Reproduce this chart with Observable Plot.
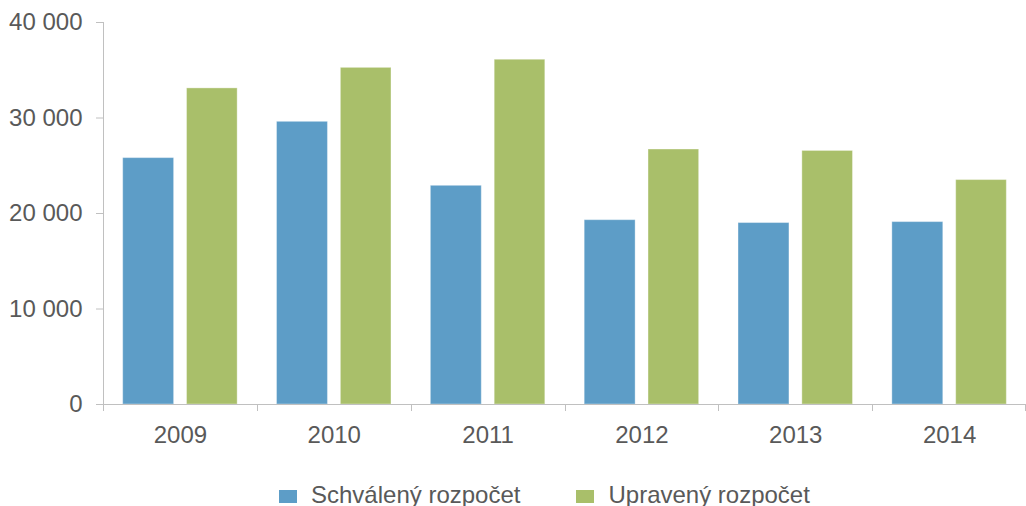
<!DOCTYPE html>
<html><head><meta charset="utf-8">
<script src="https://cdn.jsdelivr.net/npm/d3@7"></script>
<script src="https://cdn.jsdelivr.net/npm/@observablehq/plot@0.6"></script>
<style>
html,body{margin:0;padding:0;background:#fff;overflow:hidden;width:1026px;height:506px}
body{font-family:"Liberation Sans",Arial,sans-serif;position:relative}
#legend{position:absolute;left:0;top:462px;width:1026px;height:60px;display:flex;align-items:flex-start;font-size:24px;color:#595959}
#legend .item{display:flex;align-items:flex-start}
#legend .sw{width:18px;height:13px;margin-top:28px;margin-right:14px}
#legend .lab{line-height:24px;margin-top:21px;white-space:nowrap}
</style></head><body>
<div id="chart"></div>
<div id="legend"></div>
<script>
const years = ["2009", "2010", "2011", "2012", "2013", "2014"];
const seriesNames = ["Schválený rozpočet", "Upravený rozpočet"];
const schvaleny = [25800, 29600, 22900, 19300, 19000, 19100];
const upraveny = [33100, 35250, 36100, 26700, 26550, 23500];
const colors = ["#5d9dc7", "#a9bf6a"];
const yTicks = [0, 10000, 20000, 30000, 40000];

const data = years.flatMap((yr, i) => [
  {year: yr, series: seriesNames[0], value: schvaleny[i]},
  {year: yr, series: seriesNames[1], value: upraveny[i]}
]);

const W = 1026, H = 462, ML = 103, MR = 0, MT = 22, MB = 58;
const axisColor = "#c0c0c0";
const fmt = d => d3.format(",")(d).replace(/,/g, " ");

const bw = (W - ML - MR) / years.length;
const outer = 0.128 * bw, barW = 0.331 * bw, gap = 0.084 * bw;

function boundaryTicks(index, scales, values, dims) {
  const g = d3.create("svg:g").attr("stroke", axisColor).attr("stroke-width", 1);
  const x = scales.x;
  const y0 = dims.height - dims.marginBottom;
  const xs = years.map(d => x(d));
  xs.push(x(years[years.length - 1]) + x.bandwidth());
  for (const xv of xs) {
    const px = Math.min(Math.round(xv) + 0.5, dims.width - 0.5);
    g.append("line").attr("x1", px).attr("x2", px).attr("y1", y0).attr("y2", y0 + 7);
  }
  return g.node();
}

const chart = Plot.plot({
  width: W, height: H,
  marginLeft: ML, marginRight: MR, marginTop: MT, marginBottom: MB,
  style: {fontFamily: '"Liberation Sans", Arial, sans-serif', fontSize: "24px", color: "#595959", background: "#fff", overflow: "visible"},
  x: {domain: years, padding: 0, round: false, axis: null},
  y: {domain: [0, 40000], axis: null},
  color: {domain: seriesNames, range: colors},
  marks: [
    Plot.barY(data.filter(d => d.series === seriesNames[0]), {
      x: "year", y: "value", fill: "series",
      insetLeft: outer, insetRight: bw - outer - barW,
      stroke: "#ffffff", strokeOpacity: 0.35, strokeWidth: 1
    }),
    Plot.barY(data.filter(d => d.series === seriesNames[1]), {
      x: "year", y: "value", fill: "series",
      insetLeft: outer + barW + gap, insetRight: outer,
      stroke: "#ffffff", strokeOpacity: 0.35, strokeWidth: 1
    }),
    Plot.frame({anchor: "left", stroke: axisColor}),
    Plot.ruleY([0], {stroke: axisColor}),
    Plot.axisY({ticks: yTicks, tickFormat: fmt, tickSize: 7, tickPadding: 14, stroke: axisColor, label: null}),
    Plot.axisX({tickSize: 0, tickPadding: 21, label: null}),
    boundaryTicks
  ]
});
document.getElementById("chart").appendChild(chart);

const legend = document.getElementById("legend");
legend.style.paddingLeft = "279px";
seriesNames.forEach((name, i) => {
  const item = document.createElement("div");
  item.className = "item";
  if (i > 0) item.style.marginLeft = "56px";
  const sw = document.createElement("div");
  sw.className = "sw";
  sw.style.background = colors[i];
  const lab = document.createElement("div");
  lab.className = "lab";
  lab.textContent = name;
  item.appendChild(sw);
  item.appendChild(lab);
  legend.appendChild(item);
});
</script>
</body></html>
